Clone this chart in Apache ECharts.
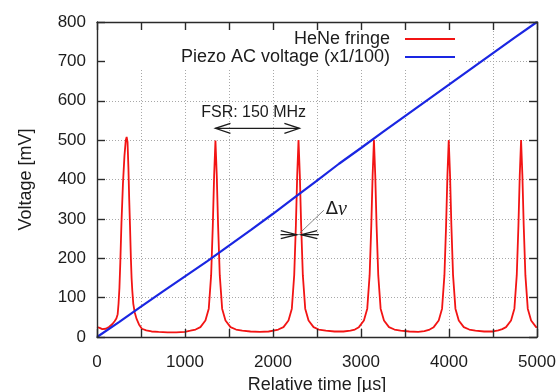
<!DOCTYPE html>
<html><head><meta charset="utf-8">
<script src="https://cdn.jsdelivr.net/npm/echarts@6/dist/echarts.min.js"></script>
<style>html,body{margin:0;padding:0;background:#fff}#c{width:559px;height:392px}</style>
</head><body><div id="c"></div>
<script>
// ---- data ----
const heneTime = [0,30,60,100,140,175,200,220,235,245,255,265,278,295,312,327,337,347,357,366,375,385,393,401,412,428,450,477,510,560,620,700,800,900,1000,1061,1120,1175,1232,1270,1297,1316,1331,1346,1361,1376,1395,1422,1460,1517,1580,1650,1744,1850,1950,2005,2060,2119,2176,2214,2241,2260,2275,2290,2305,2320,2339,2366,2404,2461,2520,2600,2700,2800,2880,2930,2976,3033,3071,3098,3117,3132,3147,3162,3177,3196,3223,3261,3318,3380,3450,3550,3650,3720,3780,3826,3883,3921,3948,3967,3982,3997,4012,4027,4046,4073,4111,4168,4230,4300,4400,4500,4560,4605,4648,4705,4743,4770,4789,4804,4819,4834,4849,4868,4895,4933,4990,5000];
const heneVoltage = [25,23,20,21,26,33,40,47,58,85,125,190,290,390,460,500,508,495,430,350,283,200,150,118,85,63,46,32,21,17,14,13,12,12,13,16,19,25,42,72,157,283,410,499,410,283,157,72,42,25,19,16,14,13,14,16,19,25,42,72,157,283,410,500,410,283,157,72,42,25,19,16,14,14,16,19,25,42,72,157,283,410,500,410,283,157,72,42,25,19,16,14,13,15,19,25,42,72,157,283,410,500,410,283,157,72,42,25,19,16,14,14,17,20,25,42,72,157,283,410,500,410,283,157,72,42,25,24];
const piezoTime = [0,250,500,750,1000,1250,1500,1750,2000,2250,2500,2750,3000,3250,3500,3750,4000,4250,4500,4750,5000];
const piezoVoltage = [0,38,77,116,154,192,232,272,313,355,397,440,480,521,561,601,641,681,721,761,800];
const seriesNames = ['HeNe fringe', 'Piezo AC voltage (x1/100)'];
const xTicks = {min: 0, max: 5000, step: 500, labelStep: 1000};
const yTicks = {min: 0, max: 800, step: 100};
// annotation anchors (data coordinates)
const fsrArrow = [[1346, 530], [2300, 530]];
const fsrLabelAt = [1780, 570];
const fsrText = 'FSR: 150 MHz';
const dnuLeftArrow = [[2085, 260], [2270, 260]];
const dnuRightArrow = [[2521, 260], [2320, 260]];
const dnuLeader = [[2578, 322], [2305, 264]];
const dnuLabelAt = [2600, 324];
const legendMask = [[0, 800], [4190, 682]];

const FONT = '"Liberation Sans", Arial, Helvetica, sans-serif';
const INK = '#1c1c1c';
const FRAME = '#2a2a2a';
const RED = '#f21414';
const BLUE = '#1a26e2';

const chart = echarts.init(document.getElementById('c'), null, {renderer: 'canvas'});

function frameAxis(extra) {
  return Object.assign({
    type: 'value', z: 3,
    axisLine: {show: true, onZero: false, lineStyle: {color: FRAME, width: 1.4}},
    axisTick: {show: true, inside: true, length: 8, lineStyle: {color: FRAME, width: 1.4}},
    axisLabel: {show: false},
    splitLine: {show: false}
  }, extra);
}
const gridLineStyle = {color: '#a8a8a8', type: [1, 2], width: 1};

const option = {
  animation: false,
  backgroundColor: '#fff',
  grid: {left: 97, right: 22, top: 22, bottom: 55, containLabel: false, outerBoundsMode: 'none'},
  xAxis: [
    frameAxis({position: 'bottom', min: xTicks.min, max: xTicks.max, interval: xTicks.step,
      name: 'Relative time [µs]', nameLocation: 'middle', nameGap: 37,
      nameTextStyle: {fontSize: 18, color: INK, fontFamily: FONT},
      axisLabel: {show: true, margin: 17, fontSize: 17, color: INK, fontFamily: FONT,
        formatter: v => (v % xTicks.labelStep === 0 ? String(v) : '')}}),
    frameAxis({position: 'top', min: xTicks.min, max: xTicks.max, interval: xTicks.step}),
    {type: 'value', position: 'bottom', min: xTicks.min, max: xTicks.max, interval: xTicks.step, z: 0,
      axisLine: {show: false}, axisTick: {show: false}, axisLabel: {show: false},
      splitLine: {show: true, lineStyle: gridLineStyle}}
  ],
  yAxis: [
    frameAxis({position: 'left', min: yTicks.min, max: yTicks.max, interval: yTicks.step,
      name: 'Voltage [mV]', nameLocation: 'middle', nameGap: 62,
      nameTextStyle: {fontSize: 18, color: INK, fontFamily: FONT},
      axisLabel: {show: true, margin: 11, fontSize: 17, color: INK, fontFamily: FONT}}),
    frameAxis({position: 'right', min: yTicks.min, max: yTicks.max, interval: yTicks.step}),
    {type: 'value', position: 'left', min: yTicks.min, max: yTicks.max, interval: yTicks.step, z: 0,
      axisLine: {show: false}, axisTick: {show: false}, axisLabel: {show: false},
      splitLine: {show: true, lineStyle: gridLineStyle}}
  ],
  legend: seriesNames.map((n, i) => ({
    data: [n], orient: 'vertical', align: 'right', right: 104, top: 30 + i * 18,
    padding: 0, itemWidth: 50, itemHeight: 2, icon: 'rect', selectedMode: false, z: 4,
    textStyle: {fontSize: 18, color: INK, fontFamily: FONT, padding: [0, 10, 0, 0]}
  })),
  series: [
    {name: seriesNames[0], type: 'line', xAxisIndex: 0, yAxisIndex: 0, symbol: 'none', showSymbol: false,
      data: heneTime.map((t, i) => [t, heneVoltage[i]]),
      lineStyle: {color: RED, width: 1.8}, itemStyle: {color: RED}, z: 2},
    {name: seriesNames[1], type: 'line', xAxisIndex: 0, yAxisIndex: 0, symbol: 'none', showSymbol: false,
      data: piezoTime.map((t, i) => [t, piezoVoltage[i]]),
      lineStyle: {color: BLUE, width: 2.2}, itemStyle: {color: BLUE}, z: 2}
  ]
};
chart.setOption(option);

function P(pt) { return chart.convertToPixel({seriesIndex: 0}, pt); }
function seg(a, b, color, w, z) {
  return {type: 'line', silent: true, z: z, shape: {x1: a[0], y1: a[1], x2: b[0], y2: b[1]},
    style: {stroke: color, lineWidth: w}};
}
function head(tip, from, len, half, color, z) {
  const dx = tip[0] - from[0], dy = tip[1] - from[1];
  const L = Math.hypot(dx, dy) || 1, ux = dx / L, uy = dy / L;
  const bx = tip[0] - ux * len, by = tip[1] - uy * len;
  return {type: 'polyline', silent: true, z: z,
    shape: {points: [[bx - uy * half, by + ux * half], tip, [bx + uy * half, by - ux * half]]},
    style: {stroke: color, lineWidth: 1.3, fill: null}};
}
const g = [];
const m0 = P(legendMask[0]), m1 = P(legendMask[1]);
g.push({type: 'rect', silent: true, z: 1, shape: {x: m0[0], y: m0[1], width: m1[0] - m0[0], height: m1[1] - m0[1]},
  style: {fill: '#fff'}});
const fa = P(fsrArrow[0]), fb = P(fsrArrow[1]);
g.push(seg(fa, fb, INK, 1.3, 5));
g.push(head(fa, fb, 15, 5, INK, 5));
g.push(head(fb, fa, 15, 5, INK, 5));
const fl = P(fsrLabelAt);
g.push({type: 'text', silent: true, z: 5, x: fl[0], y: fl[1],
  style: {text: fsrText, fill: INK, fontSize: 16, fontFamily: FONT, align: 'center', verticalAlign: 'middle'}});
const la = P(dnuLeftArrow[0]), lb = P(dnuLeftArrow[1]);
const ra = P(dnuRightArrow[0]), rb = P(dnuRightArrow[1]);
g.push(seg(la, lb, INK, 1.3, 5));
g.push(head(lb, la, 16, 4, INK, 5));
g.push(seg(ra, rb, INK, 1.3, 5));
g.push(head(rb, ra, 16, 4, INK, 5));
const da = P(dnuLeader[0]), db = P(dnuLeader[1]);
g.push(seg(da, db, '#666', 0.8, 5));
const dl = P(dnuLabelAt);
g.push({type: 'text', silent: true, z: 5, x: dl[0], y: dl[1],
  style: {text: '{d|Δ}{n|ν}', align: 'left', verticalAlign: 'middle',
    rich: {d: {fontSize: 18, fontFamily: '"DejaVu Sans", sans-serif', fill: INK},
           n: {fontSize: 20, fontStyle: 'italic', fontFamily: '"Liberation Serif", serif', fill: INK}}}});
chart.setOption({graphic: g});
</script></body></html>
